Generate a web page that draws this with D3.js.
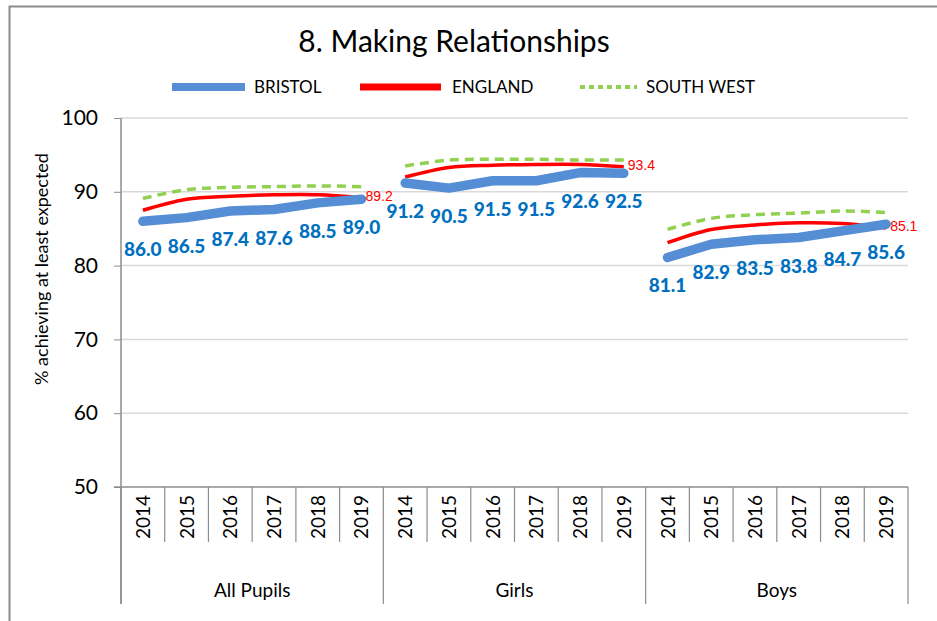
<!DOCTYPE html>
<html>
<head>
<meta charset="utf-8">
<script src="https://cdn.jsdelivr.net/npm/d3@7"></script>
<style>
  body { margin: 0; background: #fff; }
  text { font-family: Lato, "Open Sans", sans-serif; }
</style>
</head>
<body>
<script>
'use strict';

var groups = ['All Pupils', 'Girls', 'Boys'];
var years = ['2014', '2015', '2016', '2017', '2018', '2019'];
var yTicks = [50, 60, 70, 80, 90, 100];

// one row per group, one value per year
var bristol = [
	[86.0, 86.5, 87.4, 87.6, 88.5, 89.0],
	[91.2, 90.5, 91.5, 91.5, 92.6, 92.5],
	[81.1, 82.9, 83.5, 83.8, 84.7, 85.6]
];
var england = [
	[87.5, 89.0, 89.4, 89.6, 89.6, 89.2],
	[92.0, 93.3, 93.6, 93.7, 93.7, 93.4],
	[83.1, 84.9, 85.5, 85.8, 85.7, 85.1]
];
var southWest = [
	[89.1, 90.3, 90.6, 90.7, 90.8, 90.7],
	[93.5, 94.3, 94.4, 94.4, 94.3, 94.3],
	[84.9, 86.4, 86.9, 87.1, 87.4, 87.2]
];

var W = 937, H = 621;
var plotL = 121, plotR = 908, plotT = 118, plotB = 487;

var svg = d3.select('body').append('svg')
	.attr('width', W).attr('height', H);

// chart border
svg.append('rect')
	.attr('x', 9.5).attr('y', 6.5)
	.attr('width', W + 20).attr('height', H + 20)
	.attr('fill', 'none').attr('stroke', '#8c8c8c').attr('stroke-width', 2);

var keys = [];
groups.forEach(g => years.forEach(yr => keys.push(g + '|' + yr)));

var x = d3.scaleBand().domain(keys).range([plotL, plotR]);
var y = d3.scaleLinear().domain([50, 100]).range([plotB, plotT]);
var cx = (g, i) => x(groups[g] + '|' + years[i]) + x.bandwidth() / 2;

// gridlines
svg.append('g').selectAll('line')
	.data(yTicks.filter(d => d > 50))
	.enter().append('line')
	.attr('x1', plotL).attr('x2', plotR)
	.attr('y1', d => y(d)).attr('y2', d => y(d))
	.attr('stroke', '#d9d9d9').attr('stroke-width', 1.5);

// y axis
var yAxis = svg.append('g')
	.attr('transform', 'translate(' + plotL + ',0)')
	.call(d3.axisLeft(y).tickValues(yTicks).tickSize(7).tickPadding(16));
yAxis.select('.domain').remove();
yAxis.selectAll('line').attr('stroke', '#8c8c8c');
yAxis.selectAll('text')
	.attr('font-size', 21).attr('fill', '#000')
	.style('font-family', 'Lato, sans-serif');

svg.append('line')
	.attr('x1', plotL).attr('x2', plotL)
	.attr('y1', plotT).attr('y2', 604)
	.attr('stroke', '#8c8c8c').attr('stroke-width', 1.5);

// x axis line
svg.append('line')
	.attr('x1', plotL - 7).attr('x2', plotR)
	.attr('y1', plotB).attr('y2', plotB)
	.attr('stroke', '#8c8c8c').attr('stroke-width', 1.5);

// year separators
svg.append('g').selectAll('line')
	.data(keys.slice(1).filter((k, i) => (i + 1) % years.length !== 0))
	.enter().append('line')
	.attr('x1', d => x(d)).attr('x2', d => x(d))
	.attr('y1', plotB).attr('y2', 542)
	.attr('stroke', '#8c8c8c').attr('stroke-width', 1.2);

// group separators
svg.append('g').selectAll('line')
	.data(groups.map((g, i) => i).concat([groups.length]))
	.enter().append('line')
	.attr('x1', d => d < groups.length ? x(groups[d] + '|' + years[0]) : plotR)
	.attr('x2', d => d < groups.length ? x(groups[d] + '|' + years[0]) : plotR)
	.attr('y1', plotB).attr('y2', 604)
	.attr('stroke', '#8c8c8c').attr('stroke-width', 1.2);

// year labels
svg.append('g').selectAll('text')
	.data(keys)
	.enter().append('text')
	.attr('transform', d => 'translate(' + (x(d) + x.bandwidth() / 2 + 7) + ',' + 517 + ') rotate(-90)')
	.attr('text-anchor', 'middle')
	.attr('font-size', 19)
	.text(d => d.split('|')[1]);

// group labels
svg.append('g').selectAll('text')
	.data(groups)
	.enter().append('text')
	.attr('x', g => x(g + '|' + years[0]) + x.bandwidth() * years.length / 2)
	.attr('y', 597)
	.attr('text-anchor', 'middle')
	.attr('font-size', 19)
	.text(g => g);

var straight = d3.line().x(d => d.x).y(d => y(d.v));
var smooth = d3.line().x(d => d.x).y(d => y(d.v)).curve(d3.curveCatmullRom.alpha(0.5));
var pts = (arr, g) => arr[g].map((v, i) => ({ x: cx(g, i), v: v }));

groups.forEach(function(grp, g) {
	svg.append('path')
		.attr('d', smooth(pts(southWest, g)))
		.attr('fill', 'none').attr('stroke', '#92d050')
		.attr('stroke-width', 3.5).attr('stroke-dasharray', '9,6');
	svg.append('path')
		.attr('d', smooth(pts(england, g)))
		.attr('fill', 'none').attr('stroke', '#ff0000')
		.attr('stroke-width', 3.5);
	svg.append('path')
		.attr('d', straight(pts(bristol, g)))
		.attr('fill', 'none').attr('stroke', '#558ed5')
		.attr('stroke-width', 9.5).attr('stroke-linecap', 'round')
		.attr('stroke-linejoin', 'round');

	// bristol labels below points
	svg.append('g').selectAll('text')
		.data(pts(bristol, g))
		.enter().append('text')
		.attr('x', d => d.x)
		.attr('y', d => y(d.v) + 35)
		.attr('text-anchor', 'middle')
		.attr('font-size', 19).attr('font-weight', 900)
		.attr('fill', '#0070c0')
		.text(d => d.v.toFixed(1));

	// england end label
	var last = england[g].length - 1;
	svg.append('text')
		.attr('x', cx(g, last) + 4)
		.attr('y', y(england[g][last]) + 3)
		.attr('font-size', 14).attr('fill', '#ff0000')
		.style('font-family', '"Liberation Sans Narrow", "Liberation Sans", sans-serif')
		.text(england[g][last].toFixed(1));
});

// title
svg.append('text')
	.attr('x', 454).attr('y', 52)
	.attr('text-anchor', 'middle')
	.attr('font-size', 30)
	.text('8. Making Relationships');

// legend
var legend = [
	{ name: 'BRISTOL', color: '#558ed5', width: 8, dash: null, x1: 172, x2: 245, tx: 254 },
	{ name: 'ENGLAND', color: '#ff0000', width: 7, dash: null, x1: 360, x2: 441, tx: 452 },
	{ name: 'SOUTH WEST', color: '#92d050', width: 4, dash: '5,4', x1: 580, x2: 637, tx: 646 }
];
var lg = svg.append('g').selectAll('g').data(legend).enter().append('g');
lg.append('line')
	.attr('x1', d => d.x1).attr('x2', d => d.x2)
	.attr('y1', 87).attr('y2', 87)
	.attr('stroke', d => d.color).attr('stroke-width', d => d.width)
	.attr('stroke-dasharray', d => d.dash);
lg.append('text')
	.attr('x', d => d.tx).attr('y', 93)
	.attr('font-size', 17)
	.text(d => d.name);

// y axis title
svg.append('text')
	.attr('transform', 'translate(48,269) rotate(-90)')
	.attr('text-anchor', 'middle')
	.attr('font-size', 18)
	.text('% achieving at least expected');
</script>
</body>
</html>
